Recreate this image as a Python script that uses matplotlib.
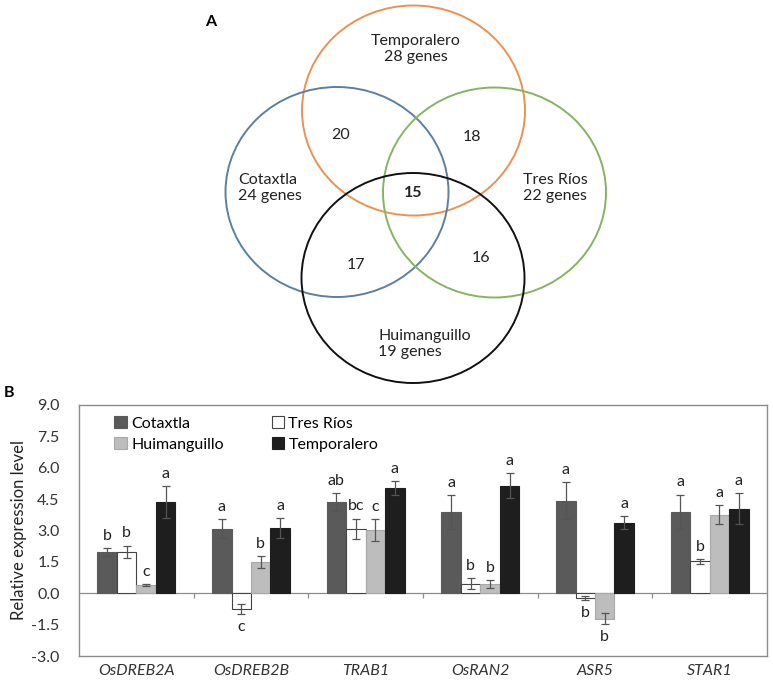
import numpy as np
import matplotlib.pyplot as plt
from matplotlib.patches import Ellipse

plt.rcParams['font.family'] = ['Lato', 'DejaVu Sans']

""" panel A: venn diagram """
venn_names = ['Temporalero', 'Cotaxtla', 'Tres Ríos', 'Huimanguillo']
venn_totals = [28, 24, 22, 19]
venn_overlaps = ['20', '18', '15', '17', '16']

""" panel B: relative expression """
genes = ['OsDREB2A', 'OsDREB2B', 'TRAB1', 'OsRAN2', 'ASR5', 'STAR1']
series = ['Cotaxtla', 'Tres Ríos', 'Huimanguillo', 'Temporalero']

cotaxtla = [1.98, 3.09, 4.37, 3.89, 4.43, 3.89]
cotaxtla_err = [0.18, 0.46, 0.43, 0.80, 0.90, 0.83]
tres_rios = [1.98, -0.74, 3.09, 0.46, -0.24, 1.53]
tres_rios_err = [0.30, 0.23, 0.48, 0.25, 0.09, 0.11]
huimanguillo = [0.40, 1.50, 3.01, 0.43, -1.21, 3.76]
huimanguillo_err = [0.05, 0.28, 0.53, 0.20, 0.25, 0.45]
temporalero = [4.37, 3.10, 5.04, 5.14, 3.38, 4.03]
temporalero_err = [0.77, 0.48, 0.32, 0.59, 0.32, 0.74]

cotaxtla_sig = ['b', 'a', 'ab', 'a', 'a', 'a']
tres_rios_sig = ['b', 'c', 'bc', 'b', 'b', 'b']
huimanguillo_sig = ['c', 'b', 'c', 'b', 'b', 'a']
temporalero_sig = ['a', 'a', 'a', 'a', 'a', 'a']

W, H = 773, 684
fig = plt.figure(figsize=(W/100, H/100), dpi=100)

# pixel-space overlay for the venn part
ax0 = fig.add_axes([0, 0, 1, 1])
ax0.set_xlim(0, W)
ax0.set_ylim(H, 0)
ax0.axis('off')

circ_xy = [(413.5, 110.5), (337, 192), (494.5, 192.5), (413, 278)]
circ_col = ['#EE9150', '#5A80A3', '#84B560', '#111111']
for (cx, cy), c in zip(circ_xy, circ_col):
	ax0.add_patch(Ellipse((cx, cy), 223, 210, fill=False, ec=c, lw=1.4))

fs = 11.5
ax0.text(416, 49, '%s\n%d genes' % (venn_names[0], venn_totals[0]), ha='center', va='center',
	fontsize=fs, linespacing=1.25, color='#222222')
ax0.text(238, 188, '%s\n%d genes' % (venn_names[1], venn_totals[1]), ha='left', va='center',
	fontsize=fs, linespacing=1.25, color='#222222')
ax0.text(523, 188, '%s\n%d genes' % (venn_names[2], venn_totals[2]), ha='left', va='center',
	fontsize=fs, linespacing=1.25, color='#222222')
ax0.text(378, 344, '%s\n%d genes' % (venn_names[3], venn_totals[3]), ha='left', va='center',
	fontsize=fs, linespacing=1.25, color='#222222')

ov_xy = [(341, 135), (472, 137), (413, 193), (356, 265), (481, 258)]
for (x, y), s in zip(ov_xy, venn_overlaps):
	ax0.text(x, y, s, ha='center', va='center', fontsize=fs, color='#222222',
		fontweight='bold' if s == '15' else 'normal')

ax0.text(211, 22, 'A', ha='center', va='center', fontsize=11.5, fontweight='bold')
ax0.text(9, 393, 'B', ha='center', va='center', fontsize=11.5, fontweight='bold')

""" bar chart """
ax = fig.add_axes([79/W, (H-656)/H, (767-79)/W, (656-405)/H])

vals = [cotaxtla, tres_rios, huimanguillo, temporalero]
errs = [cotaxtla_err, tres_rios_err, huimanguillo_err, temporalero_err]
sigs = [cotaxtla_sig, tres_rios_sig, huimanguillo_sig, temporalero_sig]
fills = ['#5a5a5a', 'white', '#bdbdbd', '#1e1e1e']
edges = ['#5a5a5a', '#444444', '#a8a8a8', '#1e1e1e']

x = np.arange(len(genes))
bw = 0.17
bars = []
for i in range(4):
	pos = x + (i - 1.5) * bw
	b = ax.bar(pos, vals[i], bw, color=fills[i], edgecolor=edges[i], linewidth=0.8,
		label=series[i], zorder=2)
	bars.append(b)
	ax.errorbar(pos, vals[i], yerr=errs[i], fmt='none', ecolor='#555555',
		elinewidth=0.9, capsize=3, capthick=0.9, zorder=3)
	for p, v, e, s in zip(pos, vals[i], errs[i], sigs[i]):
		if v >= 0:
			ax.text(p, v + e + 0.25, s, ha='center', va='bottom', fontsize=11.5, color='#222222')
		else:
			ax.text(p, v - e - 0.3, s, ha='center', va='top', fontsize=11.5, color='#222222')

ax.axhline(0, color='#8c8c8c', lw=0.9, zorder=1)
ax.vlines(x[:-1] + 0.5, -0.22, 0, color='#8c8c8c', lw=0.9)

ax.set_xlim(-0.5, len(genes) - 0.5)
ax.set_ylim(-3, 9)
ax.set_yticks(np.arange(-3, 9.01, 1.5))
ax.set_yticklabels(['%.1f' % t for t in np.arange(-3, 9.01, 1.5)])
ax.set_xticks(x)
ax.set_xticklabels(genes, fontstyle='italic')
ax.tick_params(axis='both', length=0, labelsize=11.5, colors='#333333')
ax.tick_params(axis='y', pad=14)
ax.tick_params(axis='x', pad=6)
for sp in ax.spines.values():
	sp.set_color('#8c8c8c')
	sp.set_linewidth(1.0)
ax.set_ylabel('Relative expression level', fontsize=12, color='#222222', labelpad=3)

# column-wise fill: Cotaxtla/Huimanguillo left, Tres Ríos/Temporalero right
order = [0, 2, 1, 3]
ax.legend([bars[k] for k in order], [series[k] for k in order], loc='upper left',
	bbox_to_anchor=(0.035, 1.0), ncol=2, frameon=False,
	fontsize=11.5, handlelength=0.8, handleheight=0.8, handletextpad=0.25,
	columnspacing=3.0, labelspacing=0.4, borderaxespad=0.3)

plt.savefig('out.png', dpi=100)
